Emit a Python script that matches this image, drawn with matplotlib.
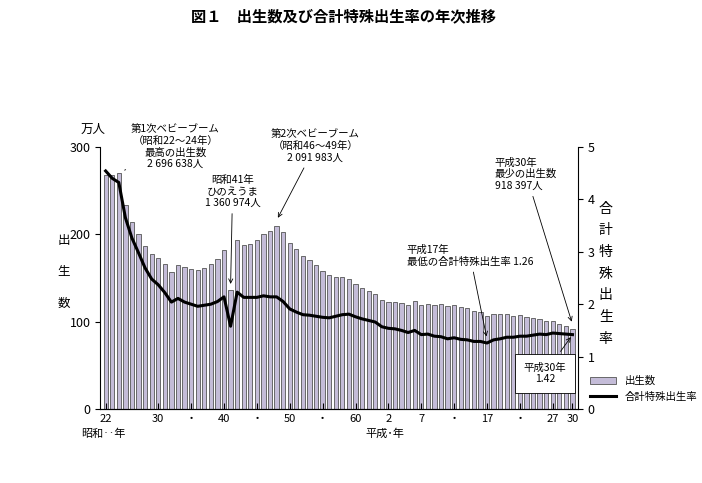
import matplotlib.pyplot as plt
import numpy as np

plt.rcParams['font.family'] = ['Noto Sans CJK JP', 'DejaVu Sans']

years = np.arange(1947, 2019)
births = [267.9, 268.2, 269.7, 233.8, 213.8, 200.5, 186.8, 177.0, 173.1, 166.5, 156.7, 165.3, 162.6, 160.6,
          158.9, 161.9, 166.0, 171.7, 182.4, 136.1, 193.6, 187.2, 188.9, 193.4, 200.1, 203.9, 209.2, 203.0,
          190.1, 183.3, 175.5, 170.9, 164.3, 157.7, 152.9, 151.5, 150.9, 149.0, 143.2, 138.3, 134.7, 131.4,
          124.7, 122.2, 122.3, 120.9, 118.8, 123.8, 118.7, 120.7, 119.2, 120.3, 117.8, 119.1, 117.1, 115.4,
          112.4, 111.1, 106.3, 109.3, 109.0, 109.1, 107.0, 107.1, 105.1, 103.7, 103.0, 100.4, 100.6, 97.7,
          94.6, 91.8]
tfr = [4.54, 4.40, 4.32, 3.65, 3.26, 2.98, 2.69, 2.48, 2.37, 2.22, 2.04, 2.11, 2.04, 2.00, 1.96, 1.98,
       2.00, 2.05, 2.14, 1.58, 2.23, 2.13, 2.13, 2.13, 2.16, 2.14, 2.14, 2.05, 1.91, 1.85, 1.80, 1.79,
       1.77, 1.75, 1.74, 1.77, 1.80, 1.81, 1.76, 1.72, 1.69, 1.66, 1.57, 1.54, 1.53, 1.50, 1.46, 1.50,
       1.42, 1.43, 1.39, 1.38, 1.34, 1.36, 1.33, 1.32, 1.29, 1.29, 1.26, 1.32, 1.34, 1.37, 1.37, 1.39,
       1.39, 1.41, 1.43, 1.42, 1.45, 1.44, 1.43, 1.42]
tick_years = [1947, 1955, 1960, 1965, 1970, 1975, 1980, 1985, 1990, 1995, 2000, 2005, 2010, 2015, 2018]
tick_labels = ['22', '30', '・', '40', '・', '50', '・', '60', '2', '7', '・', '17', '・', '27', '30']

fig = plt.figure(figsize=(7.02, 4.83), dpi=100)
ax = fig.add_axes([0.143, 0.153, 0.68, 0.543])
ax.bar(years, births, width=0.65, color='#c4bcd8', edgecolor='#555555', linewidth=0.6, label='出生数')
ax.set_xlim(1946.2, 2018.8)
ax.set_ylim(0, 300)
ax.set_yticks([0, 100, 200, 300])
ax.set_xticks(tick_years)
ax.set_xticklabels(tick_labels, fontsize=8)
ax.tick_params(axis='y', labelsize=9)
ax.tick_params(axis='x', length=4, direction='in')
ax.spines['top'].set_visible(False)
ax.spines['right'].set_visible(False)

ax2 = ax.twinx()
ax2.plot(years, tfr, color='black', linewidth=2.2, label='合計特殊出生率')
ax2.set_ylim(0, 5)
ax2.set_yticks([0, 1, 2, 3, 4, 5])
ax2.tick_params(axis='y', labelsize=9)
ax2.spines['top'].set_visible(False)
ax2.spines['left'].set_visible(False)

fig.text(0.49, 0.955, '図１　出生数及び合計特殊出生率の年次推移', ha='center', fontsize=11, fontweight='bold')
fig.text(0.115, 0.725, '万人', fontsize=9)
for i, ch in enumerate('出生数'):
    fig.text(0.082, 0.495 - i * 0.065, ch, fontsize=9)
for i, ch in enumerate('合計特殊出生率'):
    fig.text(0.853, 0.56 - i * 0.045, ch, fontsize=10)
fig.text(0.115, 0.095, '昭和‥年', fontsize=8)
fig.text(0.52, 0.095, '平成･年', fontsize=8)

kw = dict(fontsize=7.5, ha='center', annotation_clip=False)
ax.annotate('第1次ベビーブーム\n（昭和22～24年）\n最高の出生数\n2 696 638人', xy=(1949.5, 272),
            xytext=(1957.6, 326), va='top', arrowprops=dict(arrowstyle='-', lw=0.6), **kw)
ax.annotate('昭和41年\nひのえうま\n1 360 974人', xy=(1966, 140), xytext=(1966.3, 268), va='top',
            arrowprops=dict(arrowstyle='->', lw=0.6), **kw)
ax.annotate('第2次ベビーブーム\n（昭和46～49年）\n2 091 983人', xy=(1973, 216), xytext=(1978.9, 320), va='top',
            arrowprops=dict(arrowstyle='->', lw=0.6), **kw)
ax.annotate('平成17年\n最低の合計特殊出生率 1.26', xy=(2005, 80), xytext=(1992.8, 188), va='top',
            ha='left', fontsize=7.5, arrowprops=dict(arrowstyle='->', lw=0.6))
ax.annotate('平成30年\n最少の出生数\n918 397人', xy=(2018, 97), xytext=(2006.2, 288), va='top',
            ha='left', fontsize=7.5, arrowprops=dict(arrowstyle='->', lw=0.6), annotation_clip=False)
ax.annotate('平成30年\n1.42', xy=(2018, 85), xytext=(2013.8, 41), ha='center', va='center', fontsize=7.5,
            bbox=dict(boxstyle='square,pad=0.8', fc='white', ec='black', lw=0.6),
            arrowprops=dict(arrowstyle='->', lw=0.6))

h1, l1 = ax.get_legend_handles_labels()
h2, l2 = ax2.get_legend_handles_labels()
fig.legend(h1 + h2, l1 + l2, loc='lower left', bbox_to_anchor=(0.835, 0.16), frameon=False,
           fontsize=7.5, handlelength=2.5, borderaxespad=0)
fig.savefig('out.png')
